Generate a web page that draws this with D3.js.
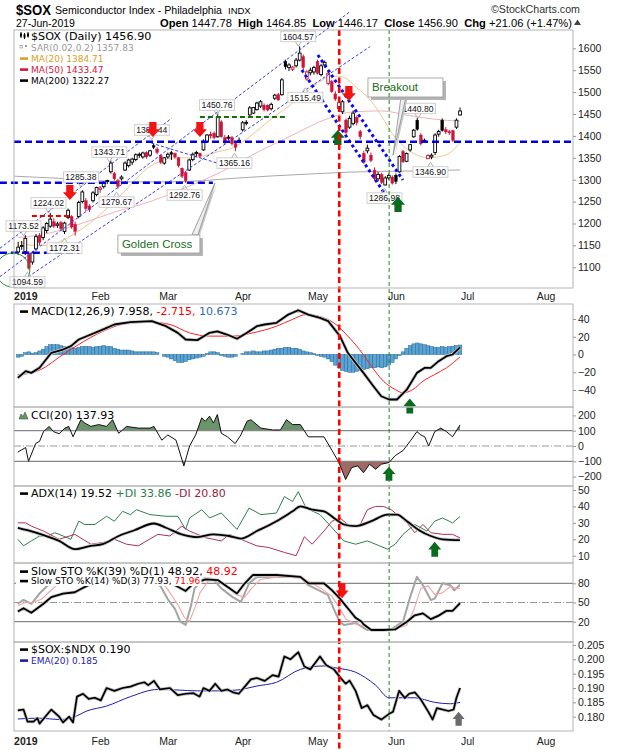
<!DOCTYPE html>
<html><head><meta charset="utf-8">
<script src="https://cdn.jsdelivr.net/npm/d3@7/dist/d3.min.js"></script>
<style>html,body{margin:0;padding:0;background:#fff;}svg{display:block;}</style>
</head><body>
<svg id="chart" width="620" height="750"></svg>
<script>
// ================= DATA =================
// Trading-day index: 0 = 2 Jan 2019; first candle is index -2 (28 Dec 2018)
const firstIndex = -2;
const opens = [
 1135,1148,1136,1132,1112,1142,1173,1168,1184,1194,
 1204,1196,1202,1182,1214,1216,1198,1216,1250,1252,
 1240,1252,1266,1278,1284,1296,1318,1314,1298,1302,
 1322,1332,1340,1346,1356,1352,1362,1356,1378,1370,
 1355,1338,1352,1362,1360,1350,1326,1316,1322,1346,
 1360,1360,1368,1386,1404,1406,1398,1432,1396,1396,
 1396,1382,1388,1414,1430,1448,1452,1460,1468,1470,
 1470,1462,1486,1494,1494,1570,1556,1552,1560,1573,
 1581,1530,1544,1546,1570,1540,1562,1520,1524,1496,
 1462,1455,1436,1420,1428,1442,1410,1360,1366,1356,
 1322,1302,1312,1288,1304,1306,1310,1318,1364,1342,
 1368,1398,1436,1402,1388,1348,1352,1362,1404,1436,
 1414,1410,1412,1420,1447.78];
const highs = [
 1158,1160,1173.52,1136,1137,1176,1178,1194,1203,1224.02,
 1212,1204,1206,1204,1234,1219,1204,1252,1276,1258,
 1244,1274,1284,1285.38,1296,1300,1343.71,1318,1302,1310,
 1342,1348,1350,1360,1362,1364,1365,1368,1382.44,1374,
 1358,1352,1362,1366,1362,1352,1328,1320,1348,1362,
 1366,1362,1392,1404,1410,1410,1450.76,1436,1402,1402,
 1400,1386,1396,1434,1436,1468,1466,1478,1482,1474,
 1472,1476,1496,1498,1532,1574,1566,1560,1578,1604.57,
 1586,1550,1556,1560,1574,1564,1572,1545,1528,1502,
 1480,1482,1440,1446,1458,1446,1414,1366,1380,1362,
 1328,1318,1316,1308,1314,1310,1314,1356,1368,1362,
 1382,1416,1440.80,1406,1394,1358,1360,1406,1414,1440,
 1420,1414,1414,1440,1464.85];
const lows = [
 1128,1140,1128,1094.59,1106,1138,1150,1162,1178,1190,
 1190,1190,1184,1176,1210,1188,1172.31,1212,1246,1228,
 1226,1248,1262,1270,1280,1290,1314,1298,1279.67,1298,
 1320,1328,1334,1342,1350,1348,1348,1352,1370,1358,
 1336,1334,1348,1345,1348,1328,1304,1292.76,1320,1342,
 1352,1350,1366,1384,1394,1392,1396,1396,1380,1390,
 1378,1365.16,1384,1410,1424,1446,1450,1458,1464,1456,
 1456,1458,1482,1480,1492,1552,1548,1548,1556,1570,
 1550,1526,1538,1540,1540,1536,1556,1515.49,1498,1480,
 1458,1450,1404,1416,1424,1424,1392,1336,1360,1340,
 1298,1296,1290,1286.98,1300,1289,1290,1316,1338,1340,
 1364,1396,1412,1378,1384,1347.5,1346.90,1356,1398,1410,
 1404,1402,1386,1416,1446.17];
const closes = [
 1146,1150,1166,1098,1133,1170,1157,1190,1200,1210,
 1194,1199,1188,1201,1230,1192,1182,1248,1272,1234,
 1232,1270,1282,1281,1294,1298,1338,1302,1285,1306,
 1338,1345,1347,1357,1358,1361,1352,1366,1374,1362,
 1340,1350,1358,1358,1352,1332,1308,1298,1345,1358,
 1362,1354,1388,1402,1400,1396,1442,1398,1384,1397,
 1382,1374,1390,1430,1431,1464,1465,1475,1478,1460,
 1459,1472,1493,1482,1528,1558,1562,1557,1573,1589,
 1556,1546,1550,1556,1543,1560,1568,1543,1501,1484,
 1476,1478,1408,1440,1452,1430,1398,1340,1372,1344,
 1302,1312,1294,1304,1310,1292,1296,1353,1341,1360,
 1380,1413,1415,1382,1390,1355,1356,1402,1410,1412,
 1409,1407,1390,1435.84,1456.90];

const monthLabels = ["2019","Feb","Mar","Apr","May","Jun","Jul","Aug"];
const monthStarts = [0,21,40,61,82,104,124,146];

// moving averages [index, value]
const ma20Pts = [[-2,1160],[2,1150],[6,1150],[10,1160],[14,1178],[18,1200],[22,1228],[26,1258],[30,1292],[34,1325],[38,1342],[42,1350],[46,1350],[50,1354],[54,1364],[58,1372],[62,1392],[66,1418],[70,1445],[74,1468],[78,1495],[82,1520],[86,1537],[89,1535],[93,1510],[97,1480],[100,1445],[103,1405],[106,1378],[109,1360],[113,1350],[117,1354],[120,1367],[122,1384.71]];
const ma50Pts = [[-2,1168],[5,1175],[15,1198],[25,1226],[35,1250],[45,1282],[55,1318],[65,1362],[75,1402],[85,1440],[92,1455],[100,1457],[108,1446],[115,1438],[122,1433.47]];
const ma200Pts = [[-3,1308],[10,1303],[20,1298],[30,1295],[40,1295],[50,1298],[60,1304],[70,1309],[80,1313],[90,1317],[100,1319],[110,1320],[122,1322.27]];

// MACD(12,26,9)
const macdPts = [[-2.1,-26.3],[0.1,-18.8],[1.7,-20.7],[4,-15],[7.3,1.9],[10.6,5.6],[12.8,9.4],[15,16.9],[18.4,22.5],[21.7,28],[25,33.8],[29.5,36.4],[35.5,37.6],[39.5,31.9],[42.8,24.4],[45,16.9],[48.3,16.2],[51.7,24.4],[53.9,26],[56.6,22.5],[59.4,17.7],[62.2,24.4],[65,31.9],[67.2,33.8],[70.5,35.7],[73.8,45],[76.6,49.9],[79.4,45],[82.7,41.3],[85,37.6],[88.3,20.7],[90.5,1.9],[92.7,-9.4],[94.9,-20.7],[97.7,-35.7],[99.9,-47],[102.1,-50.7],[104.3,-50.7],[107.1,-39.4],[109.9,-20.7],[112.1,-15],[113.8,-15],[116,-7.5],[118.2,-1.9],[119.9,0],[122,7.958]];
const signalPts = [[-2.1,-23],[4,-17.7],[10.6,0],[15,11.3],[21.7,26],[29.5,35.7],[35.5,36.4],[40.6,33.8],[46.1,24.4],[51.7,20.7],[58.3,20.7],[63.9,24.4],[70.5,31.9],[74.9,39.4],[78.8,45],[83.8,41.3],[87.2,33.8],[90.5,20.7],[93.8,5.6],[97.1,-13.1],[100.5,-30],[103.8,-39.4],[106,-43.2],[108.8,-39.4],[111.6,-30],[114.9,-22.5],[118.2,-15],[122,-2.715]];
const histValues = [
 -3,-2,2,3,1.5,2,4,6,9,11,11,11,
 10,9,9,8,7,8,9,9,9,8,
 9,9,10,9,9,7,6,5,5,5,
 4,3,3,3,3,3,3,2,0,-2,
 -3,-5,-7,-9,-9,-8,-6,-5,-4,-3,
 -2,1,3,3,2,-1,-2,-3,-3,-2,
 0,1,3,3,4,3,3,4,4,5,
 6,7,7,8,8,7,7,6,4,3,
 2,1,-1,-2,-3,-5,-8,-12,-15,-18,
 -19,-20,-20,-19,-18,-17,-16,-15,-15,-14,
 -15,-14,-12,-9,-5,-1,3,7,10,12,
 13,12,11,10,9,8,8,9,8,9,
 9,10,10.67];

// CCI(20)
const cciPts = [[-2.1,-40],[0.1,-10],[0.9,-100],[2.9,16],[4,30],[5.1,94],[6.7,128],[7.9,94],[9.5,80],[11.1,117],[12.2,128],[13.4,60],[14.5,117],[15.6,172],[16.7,150],[18.4,128],[20.6,140],[22.8,128],[24.5,172],[26.2,83],[28.4,128],[31.7,117],[35,117],[36.1,128],[38.3,38],[40,72],[42.3,38],[44.5,-130],[46.1,0],[47.8,72],[49.5,184],[50.5,161],[51.7,195],[52.8,150],[53.9,206],[55,83],[56.7,60],[58.9,16],[60.5,72],[62.2,161],[63.3,172],[66.1,117],[69.4,105],[71.6,105],[73.3,172],[75,140],[77.2,140],[79.4,60],[81.6,60],[83.8,60],[86.1,-30],[88,-108],[89.9,-219],[91.6,-141],[93.3,-130],[94.9,-175],[96.6,-119],[98.3,-152],[99.9,-119],[102.1,-108],[103.8,-63],[106,-30],[108.2,38],[109.9,94],[111,72],[112.1,60],[113.2,0],[114.9,94],[116.6,117],[118.2,94],[119.9,60],[122,137.93]];

// ADX(14)
const adxPts = [[-2.1,27],[0.6,25.5],[5.1,22.5],[9.5,19],[13.9,14],[18.4,16],[21.7,17],[26.2,22],[30.6,25.5],[36.1,29.6],[39.5,27],[43.9,23],[48.3,21.3],[52.8,23],[57.2,22],[60.5,20.4],[65,25],[70.5,31],[75,37],[77.2,40],[80.5,38],[83.8,37],[87.2,32],[89.4,29],[92.7,28],[97.1,31],[101.6,35],[104.3,35],[107.1,31],[110.5,25.5],[113.8,22],[117.1,20],[122,19.52]];
const plusDiPts = [[-2.1,20],[-0.5,16],[1.7,19],[4,22],[6.2,22],[8.3,24],[10.6,22],[12.8,20],[15,31],[16.7,29],[19.5,29],[22.8,34],[25,31],[27.3,37],[29.5,35],[31.2,38],[35,35],[39.5,34],[42.8,34],[45,26],[46.1,33],[49.5,38],[51.7,33],[55,36],[57.2,31],[59.4,26],[62.8,39],[66.1,35],[70.5,36],[72.7,46],[75,43],[76.6,49],[78.8,39],[82.7,35],[86.1,27],[89.4,19],[92.7,17],[96,19],[99.4,16],[101.6,14],[103.8,17],[106,23],[109.3,29],[112.7,25],[114.9,31],[117.1,33],[119.9,30],[122,33.86]];
const minusDiPts = [[-2.1,30],[0.1,30],[1.7,28],[5.1,25],[9.5,20],[13.9,23],[18.4,17],[21.7,18],[25,20],[28.4,17],[31.7,16],[37.2,23],[40.6,22],[43.9,28],[46.1,25],[50.5,21],[55,19],[57.2,23],[61.6,19],[65,16],[68.3,15],[72.7,12],[76,10],[78.3,21.5],[80.5,17],[83.8,25],[86.1,31],[88.3,33],[90.5,29],[93.8,28],[96,38],[98.3,40],[100.5,40],[102.7,38],[104.9,34],[107.1,30],[109.3,24],[111.6,29],[113.8,24],[117.1,23],[119.9,23],[122,20.8]];

// Slow stochastics
const stoK39Pts = [[-2.1,36],[-0.5,41],[1.7,34],[5.1,48],[7.3,58.5],[10.6,64],[13.9,66],[15.6,71],[18,78],[22,88],[26,92],[30,95],[34,96],[38,90],[41,80],[45,68],[47.2,80],[50.6,86],[54,85],[59.4,64],[61.6,80],[63.9,93],[70.5,93],[77.2,90],[79.4,80],[83.8,80],[86.1,69],[88.3,56],[90.5,41],[92.7,26],[94.4,20],[94.9,16],[97.1,7],[100.5,7],[103.8,8],[107.1,20],[109.3,30],[111.6,33],[113.8,24],[116,29.5],[118.2,37],[119.9,37],[122,48.92]];
const stoK14Pts = [[-2.1,48],[-0.5,54],[1.7,48],[4,64],[6,75],[8,85],[10,80],[12,90],[15,95],[18,90],[20,95],[24,88],[26,78],[28,90],[32,92],[35,88],[38,75],[40,55],[42,40],[43.5,20],[45,15],[46.5,45],[47.5,72],[50.6,90],[52.8,86],[55,72],[58.3,58],[60.5,51],[62.8,80],[65,90],[70.5,90],[77.2,90],[79.4,77],[82,70],[84.9,62],[87.2,32],[88.3,20],[89.4,15],[92.7,18],[96,7],[99.4,8],[102.7,8],[106,20],[108.2,62],[109.9,90],[111.6,77],[113.8,54],[114.9,56],[117.1,80],[119.3,77],[120.4,69],[122,77.93]];
const stoD3Pts = [[-2.1,45],[0,50],[2,50],[4.5,55],[7,68],[9,78],[11,83],[13,86],[16,92],[20,92],[25,88],[28,85],[32,90],[36,88],[39,78],[41,62],[43,45],[44.5,28],[46,20],[47.5,40],[49,65],[51.5,85],[54,86],[56,78],[59,63],[61.5,58],[63.5,72],[66,86],[71,90],[78,88],[80.5,80],[83,72],[86,60],[88.3,40],[90,24],[93,16],[97,9],[103,8],[107,14],[109,38],[111,72],[113,76],[115,62],[117,65],[119.3,75],[121,72],[122,71.96]];

// $SOX:$NDX ratio and its EMA(20)
const ratioPts = [[-2.1,0.1822],[-0.5,0.1825],[0.6,0.1783],[2.3,0.1783],[3.4,0.1795],[4,0.1776],[5.6,0.180],[7.3,0.1825],[9.5,0.180],[10.6,0.178],[12.3,0.180],[13.4,0.178],[14.5,0.187],[16.2,0.188],[17.8,0.1862],[19.5,0.1866],[21.2,0.1857],[22.8,0.190],[25,0.189],[27.3,0.190],[29.5,0.1905],[31.7,0.1915],[33.4,0.192],[34.5,0.191],[36.1,0.1925],[37.8,0.1895],[40.6,0.190],[42.8,0.1875],[45,0.188],[47.2,0.1882],[48.9,0.187],[50,0.190],[51.7,0.189],[53.3,0.1915],[55,0.189],[56.7,0.1895],[58.3,0.1885],[59.9,0.188],[61.6,0.1905],[63.3,0.193],[65,0.1935],[67.2,0.1925],[69.4,0.1945],[71.1,0.194],[72.7,0.201],[74.4,0.200],[76.6,0.2025],[78.3,0.1975],[80,0.1965],[82.7,0.201],[84.4,0.198],[86.6,0.1965],[88.3,0.1938],[89.9,0.1915],[91,0.1926],[92.7,0.189],[94.4,0.183],[96,0.184],[97.7,0.1806],[99.9,0.179],[102.1,0.181],[103.2,0.1817],[104.9,0.189],[106.5,0.1865],[107.7,0.188],[109.3,0.1885],[111,0.186],[113.2,0.1815],[114.3,0.179],[115.5,0.183],[117.1,0.1825],[118.8,0.182],[120.2,0.1825],[121,0.1866],[122,0.190]];
const ratioEmaPts = [[-2.1,0.1792],[4,0.1795],[9.5,0.179],[13.9,0.180],[17.3,0.182],[22.8,0.1837],[29.5,0.187],[37.2,0.1895],[42.8,0.1893],[48.3,0.189],[53.9,0.189],[59.4,0.1893],[65,0.1907],[70.5,0.192],[77.2,0.1965],[83.8,0.1977],[87.2,0.197],[92.7,0.1955],[98.3,0.191],[102.1,0.1866],[109.3,0.1866],[114.9,0.185],[119.3,0.1845],[122,0.185]];

// axis tick values
const mainTicks = [1100,1150,1200,1250,1300,1350,1400,1450,1500,1550,1600];
const macdTicks = [40,20,0,-20,-40];
const cciTicks = [200,100,0,-100,-200];
const adxTicks = [50,40,30,20,10];
const stoTicks = [80,50,20];
const ratioTicks = [0.205,0.200,0.195,0.190,0.185,0.180];

// ================= DRAWING =================
const svg = d3.select('#chart');
const FONT = "'Liberation Sans', Arial, sans-serif";
const LFONT = "'DejaVu Sans', Verdana, sans-serif";
const RED = '#d3123a';

const xs = d3.scaleLinear().domain([-3.17,153.7]).range([14,573]);
const panels = {main:[30,288], macd:[304,407], cci:[407,486], adx:[486,563], sto:[563,642], ratio:[642,731]};
const yMain = d3.scaleLinear().domain([1100,1600]).range([267.3,48.3]);
const yMacd = d3.scaleLinear().domain([-40,40]).range([390,319]);
const yCci = d3.scaleLinear().domain([-100,100]).range([461.3,430.7]);
const yAdx = d3.scaleLinear().domain([10,50]).range([555.7,490]);
const ySto = d3.scaleLinear().domain([20,80]).range([621.7,583.3]);
const yRatio = d3.scaleLinear().domain([0.18,0.205]).range([716.7,645]);

const defs = svg.append('defs');
Object.entries(panels).forEach(([k,[t,b]])=>{
  defs.append('clipPath').attr('id','clip-'+k).append('rect')
    .attr('x',14).attr('y',t).attr('width',559).attr('height',b-t);
});
const layer = k => svg.append('g').attr('clip-path','url(#clip-'+k+')');

function drawLine(g, pts, ys, color, w, opts={}) {
  const ln = d3.line().x(d=>xs(d[0])).y(d=>ys(d[1]));
  if (opts.curve) ln.curve(d3.curveMonotoneX);
  if (opts.shadow) g.append('path').attr('d',ln(pts)).attr('fill','none').attr('stroke',opts.shadow).attr('stroke-width',w+1.6).attr('stroke-linejoin','round');
  g.append('path').attr('d',ln(pts)).attr('fill','none').attr('stroke',color).attr('stroke-width',w).attr('stroke-linejoin','round');
}
function hRule(g, ys, v, color, w, dash) {
  g.append('line').attr('x1',14).attr('x2',573).attr('y1',ys(v)).attr('y2',ys(v))
   .attr('stroke',color).attr('stroke-width',w).attr('stroke-dasharray',dash||null);
}

// ---------- header ----------
svg.append('text').attr('x',16).attr('y',14.8).attr('font-family',FONT).attr('font-weight','bold')
  .attr('font-size',15.5).attr('textLength',35).attr('lengthAdjust','spacingAndGlyphs').text('$SOX');
svg.append('text').attr('x',55).attr('y',13.5).attr('font-family',FONT).attr('font-size',10.5)
  .attr('textLength',167).attr('lengthAdjust','spacingAndGlyphs').text('Semiconductor Index - Philadelphia');
svg.append('text').attr('x',228).attr('y',13.5).attr('font-family',FONT).attr('font-size',9.5).text('INDX');
svg.append('text').attr('x',580).attr('y',12.5).attr('text-anchor','end').attr('font-family',FONT).attr('font-size',10)
  .attr('fill','#333').attr('textLength',89).attr('lengthAdjust','spacingAndGlyphs').text('\u00A9StockCharts.com');
svg.append('text').attr('x',16).attr('y',26.5).attr('font-family',FONT).attr('font-size',10.5).text('27-Jun-2019');
const hl = svg.append('text').attr('x',160).attr('y',26.5).attr('font-family',FONT).attr('font-size',11.5)
  .attr('textLength',412).attr('lengthAdjust','spacingAndGlyphs');
[['Open',1],[' 1447.78  ',0],['High',1],[' 1464.85  ',0],['Low',1],[' 1446.17  ',0],['Close',1],[' 1456.90  ',0],['Chg',1],[' +21.06 (+1.47%)',0]]
 .forEach(([t,b])=>hl.append('tspan').attr('font-weight',b?'bold':'normal').attr('xml:space','preserve').text(t));
svg.append('path').attr('d','M574,25 L577.5,19.5 L581,25 Z').attr('fill','#444');

// ---------- main panel ----------
const gm = layer('main');
drawLine(gm, ma200Pts, yMain, '#a9a9a9', 1, {curve:true});
drawLine(gm, ma50Pts, yMain, '#f3b2ba', 1, {curve:true});
drawLine(gm, ma20Pts, yMain, '#ecc890', 1, {curve:true});

const candles = closes.map((c,k)=>({i:firstIndex+k, o:opens[k], h:highs[k], l:lows[k], c:c, prev:k>0?closes[k-1]:null}));
candles.forEach(d=>{
  const col = (d.prev!==null && d.c<d.prev) ? RED : '#000';
  const x = xs(d.i);
  gm.append('line').attr('x1',x).attr('x2',x).attr('y1',yMain(d.h)).attr('y2',yMain(d.l)).attr('stroke',col).attr('stroke-width',1);
  const top = yMain(Math.max(d.o,d.c)), bot = yMain(Math.min(d.o,d.c));
  const filled = d.c < d.o;
  gm.append('rect').attr('x',x-1.4).attr('y',top).attr('width',2.8).attr('height',Math.max(1,bot-top))
    .attr('fill',filled?col:'#fff').attr('stroke',col).attr('stroke-width',filled?0.4:0.9);
});

// annotation lines (data coordinates)
const ga = svg.append('g');
const seg = (a,b,color,w,dash)=>ga.append('line').attr('x1',xs(a[0])).attr('y1',yMain(a[1])).attr('x2',xs(b[0])).attr('y2',yMain(b[1]))
   .attr('stroke',color).attr('stroke-width',w).attr('stroke-dasharray',dash);
const thinTrend = [[[-7.13,1143.4],[41.06,1440.2]], [[-7.13,1078.5],[91.1,1683.6]], [[0.81,1078.5],[96.7,1603.7]], [[34.04,1386.8],[54.1,1337.4]]];
thinTrend.forEach(([a,b])=>seg(a,b,'#3a3af0',1,'3,2'));
const thickTrend = [[[82.1,1584.7],[105.97,1299.3]], [[77.6,1550.5],[101.5,1260.5]]];
thickTrend.forEach(([a,b])=>seg(a,b,'#0a0af5',3,'3,3'));
const hLevels = [
  {p:1386.8, i0:-3.17, i1:153.7, c:'#0000e0', w:2.5, d:'7,4'},
  {p:1293,   i0:-7.13, i1:52.65, c:'#0000e0', w:2.5, d:'7,4'},
  {p:1133.3, i0:-7.13, i1:15.3,  c:'#0000e0', w:2.5, d:'7,4'},
  {p:1217,   i0:1.85,  i1:13.1,  c:'#ee0000', w:2,   d:'5,3'},
  {p:1443,   i0:49,    i1:72.9,  c:'#107010', w:2,   d:'5,3'}];
hLevels.forEach(h=>seg([h.i0,h.p],[h.i1,h.p],h.c,h.w,h.d));

// green circle around the January low
ga.append('circle').attr('cx',xs(-3.5)).attr('cy',yMain(1093.8)).attr('r',17).attr('fill','none').attr('stroke','#2a8a2a').attr('stroke-width',1);

// value labels [text, index, price (box centre), pointer]
const valueLabels = [
 ['1604.57',76.6,1627,'down'],['1450.76',53.8,1470.5,'down'],['1382.44',35.5,1413.5,'down'],
 ['1343.71',23.6,1363,'down'],['1285.38',15.6,1306,'down'],['1279.67',25.6,1249,'up'],
 ['1292.76',44.7,1265,'up'],['1365.16',58.7,1338,'up'],['1224.02',6.5,1247,'down'],
 ['1173.52',-0.5,1194.3,'down'],['1172.31',11,1144,'up'],['1094.59',0.6,1066.5,'up'],
 ['1515.49',78.6,1487.7,'up'],['1286.98',100.8,1258,'up'],['1440.80',110.2,1462.6,'down'],
 ['1346.90',113.7,1317.6,'up']];
valueLabels.forEach(([t,i,p,dir])=>{
  const cx = xs(i), cy = yMain(p), w = 35, h = 10.5;
  const g = svg.append('g');
  const py = dir==='down' ? cy+h/2 : cy-h/2, ty = dir==='down' ? py+4.5 : py-4.5;
  g.append('path').attr('d',`M${cx-3},${py} L${cx},${ty} L${cx+3},${py}`).attr('fill','none').attr('stroke','#b0b0b0');
  g.append('rect').attr('x',cx-w/2).attr('y',cy-h/2).attr('width',w).attr('height',h).attr('fill','#fff').attr('stroke','#c4c4c4').attr('stroke-width',0.8);
  g.append('text').attr('x',cx).attr('y',cy+3.1).attr('text-anchor','middle').attr('font-family',FONT).attr('font-size',8.6).attr('fill','#111').text(t);
});

// block arrows
function blockArrow(cx, tipY, dir, color, w, h) {
  const hw=w/2, sw=w*0.26, hh=h*0.52, s = dir==='down'?-1:1;
  const pts = [[cx-sw,tipY+s*h],[cx+sw,tipY+s*h],[cx+sw,tipY+s*hh],[cx+hw,tipY+s*hh],[cx,tipY],[cx-hw,tipY+s*hh],[cx-sw,tipY+s*hh]];
  svg.append('polygon').attr('points',pts.map(p=>p.join(',')).join(' ')).attr('fill',color);
}
const GREEN = '#0b6b1c';
const mainArrows = [[12.5,1253.6,'down',RED],[35.8,1397.5,'down',RED],[49,1397.5,'down',RED],[90.8,1479.7,'down',RED],
                    [87.7,1413.5,'up',GREEN],[104.6,1260.5,'up',GREEN]];
mainArrows.forEach(([i,p,dir,c])=>blockArrow(xs(i), yMain(p), dir, c==RED?'#f01414':c, 14, 15));

// callouts
function callout(c) {
  const x = xs(c.i), y = yMain(c.p), tx = xs(c.tipI), ty = yMain(c.tipP);
  const by = c.edge==='top' ? y : y + c.h;
  const g = svg.append('g');
  g.append('polygon').attr('points',`${x+c.b1+2},${by} ${x+c.b2+2},${by} ${tx+2},${ty}`).attr('fill','#c8c8c8');
  g.append('polygon').attr('points',`${x+c.b1},${by} ${x+c.b2},${by} ${tx},${ty}`).attr('fill','#eeeeee').attr('stroke','#8c8c8c').attr('stroke-width',0.8);
  g.append('rect').attr('x',x+3).attr('y',y+3).attr('width',c.w).attr('height',c.h).attr('fill','#b4b4b4');
  g.append('rect').attr('x',x).attr('y',y).attr('width',c.w).attr('height',c.h).attr('fill','#fff').attr('stroke','#999').attr('stroke-width',0.8);
  g.append('text').attr('x',x+4).attr('y',y+c.h/2+4).attr('font-family',FONT).attr('font-size',11.5).attr('fill','#1a6e1a').text(c.text);
}
callout({text:'Golden Cross', i:25.99, p:1173.7, w:82, h:18, tipI:53.2, tipP:1291.8, b1:74, b2:80, edge:'top'});
callout({text:'Breakout', i:96.16, p:1532.2, w:75, h:19, tipI:103.2, tipP:1356, b1:33, b2:38, edge:'bottom'});

// main legend
function legendText(x, y, parts, size) {
  const t = svg.append('text').attr('x',x).attr('y',y).attr('font-family',LFONT).attr('font-size',size);
  parts.forEach(([s,c])=>t.append('tspan').attr('fill',c).attr('xml:space','preserve').text(s));
  return t;
}
function dashIcon(y, c) { svg.append('rect').attr('x',20).attr('y',y-4.2).attr('width',8).attr('height',2.6).attr('fill',c); }
// candle icon
[[21,32,38,'#000'],[24.5,33,39,'#000'],[28,32,37.5,'#000']].forEach(([x,a,b,c])=>{
  svg.append('line').attr('x1',x).attr('x2',x).attr('y1',a).attr('y2',b).attr('stroke',c).attr('stroke-width',1);
  svg.append('rect').attr('x',x-1).attr('y',a+1.5).attr('width',2).attr('height',3).attr('fill',c);
});
legendText(31,39.5,[['$SOX (Daily) 1456.90','#000']],11.2);
svg.append('rect').attr('x',20).attr('y',45.5).attr('width',2.5).attr('height',2.5).attr('fill','none').attr('stroke','#999').attr('stroke-width',0.7);
svg.append('rect').attr('x',25).attr('y',45).attr('width',2).attr('height',2).attr('fill','#999');
legendText(31,50.5,[['SAR(0.02,0.2) 1357.83','#999']],9);
dashIcon(61.5,'#d9a02a'); legendText(31,61.5,[['MA(20) 1384.71','#d9a02a']],9);
dashIcon(72.5,'#d9143c'); legendText(31,72.5,[['MA(50) 1433.47','#d9143c']],9);
dashIcon(83.5,'#000'); legendText(31,83.5,[['MA(200) 1322.27','#000']],9);

// ---------- MACD ----------
const gmacd = layer('macd');
const bw = xs(1)-xs(0);
histValues.forEach((v,k)=>{
  const i = firstIndex+k, y0 = yMacd(0), y1 = yMacd(v);
  gmacd.append('rect').attr('x',xs(i)-bw/2).attr('y',Math.min(y0,y1)).attr('width',bw).attr('height',Math.abs(y1-y0))
    .attr('fill','#5aa3d2').attr('stroke','#22689a').attr('stroke-width',0.5);
});
drawLine(gmacd, signalPts, yMacd, '#ff2020', 1, {curve:true});
drawLine(gmacd, macdPts, yMacd, '#000', 1.8, {shadow:'#c8c8c8'});
dashIcon(314.5,'#000');
legendText(31,314.5,[['MACD(12,26,9) 7.958, ','#000'],['-2.715, ','#ff0000'],['10.673','#2e6db0']],11);

// ---------- CCI ----------
const gcci = layer('cci');
defs.append('clipPath').attr('id','cci-hi').append('rect').attr('x',14).attr('y',407).attr('width',559).attr('height',yCci(100)-407);
defs.append('clipPath').attr('id','cci-lo').append('rect').attr('x',14).attr('y',yCci(-100)).attr('width',559).attr('height',486-yCci(-100));
const cciArea = base => d3.area().x(d=>xs(d[0])).y0(yCci(base)).y1(d=>yCci(d[1]));
gcci.append('path').attr('d',cciArea(100)(cciPts)).attr('fill','#6c946c').attr('clip-path','url(#cci-hi)');
gcci.append('path').attr('d',cciArea(-100)(cciPts)).attr('fill','#9e6a66').attr('clip-path','url(#cci-lo)');
hRule(gcci, yCci, 100, '#888', 1.2); hRule(gcci, yCci, -100, '#888', 1.2); hRule(gcci, yCci, 0, '#999', 1, '7,2,1,2');
drawLine(gcci, cciPts, yCci, '#111', 1);
svg.append('path').attr('d','M19,419 L21,414 L23,416.5 L25,412 L28,419 Z').attr('fill','#6c946c').attr('stroke','#355a35').attr('stroke-width',0.6);
legendText(31,419,[['CCI(20) 137.93','#000']],11);

// ---------- ADX ----------
const gadx = layer('adx');
drawLine(gadx, plusDiPts, yAdx, '#2e8050', 1);
drawLine(gadx, minusDiPts, yAdx, '#b03052', 1);
drawLine(gadx, adxPts, yAdx, '#000', 1.8, {shadow:'#c8c8c8', curve:true});
dashIcon(496.5,'#000');
legendText(31,496.5,[['ADX(14) 19.52 ','#000'],['+DI 33.86 ','#2e7d4f'],['-DI 20.80','#a0203a']],11);

// ---------- STO ----------
const gsto = layer('sto');
hRule(gsto, ySto, 80, '#888', 1.2); hRule(gsto, ySto, 20, '#888', 1.2); hRule(gsto, ySto, 50, '#999', 1, '7,2,1,2');
drawLine(gsto, stoK14Pts, ySto, '#a4a4a4', 2);
drawLine(gsto, stoD3Pts, ySto, '#f2a4a4', 1.1);
drawLine(gsto, stoK39Pts, ySto, '#000', 1.8, {shadow:'#cccccc'});
function bgLegend(x,y,parts,size){
  const t = legendText(x,y,parts,size); const bb = t.node().getBBox();
  svg.insert('rect', () => t.node()).attr('x',16).attr('y',bb.y-0.5).attr('width',bb.x+bb.width-16+1).attr('height',bb.height+0.5).attr('fill','#fff');
  return t;
}
bgLegend(31,574.5,[['Slow STO %K(39) %D(1) 48.92, ','#000'],['48.92','#ff0000']],11);
bgLegend(31,584,[['Slow STO %K(14) %D(3) 77.93, ','#000'],['71.96','#ff0000']],9);
dashIcon(574.5,'#000'); dashIcon(584,'#000');

// ---------- ratio ----------
const grat = layer('ratio');
drawLine(grat, ratioEmaPts, yRatio, '#1c1cb0', 1, {curve:true});
drawLine(grat, ratioPts, yRatio, '#000', 1.7, {shadow:'#c4c4c4'});
dashIcon(652.5,'#000'); legendText(31,652.5,[['$SOX:$NDX 0.190','#000']],11);
dashIcon(663.5,'#1c1cb0'); legendText(31,663.5,[['EMA(20) 0.185','#1c1cb0']],9);

// subpanel arrows
blockArrow(xs(107.9), yMacd(-49.6), 'up', GREEN, 13, 15);
blockArrow(xs(102.05), yCci(-135), 'up', GREEN, 13, 14);
blockArrow(xs(114.9), yAdx(18.5), 'up', GREEN, 13, 15);
blockArrow(xs(88.9), ySto(56.6), 'down', '#f01414', 13, 15);
blockArrow(xs(121.6), yRatio(0.18174), 'up', '#6a6a6a', 12, 14);

// vertical event lines
const vRed = 88.1, vGreen = 102.1;
svg.append('line').attr('x1',xs(vGreen)).attr('x2',xs(vGreen)).attr('y1',30).attr('y2',731).attr('stroke','#1a8a1a').attr('stroke-width',1).attr('stroke-dasharray','4,3');
svg.append('line').attr('x1',xs(vRed)).attr('x2',xs(vRed)).attr('y1',30).attr('y2',750).attr('stroke','#ff0000').attr('stroke-width',2.6).attr('stroke-dasharray','6,3.5');

// ---------- panel frames & axes ----------
Object.values(panels).forEach(([t,b])=>{
  svg.append('rect').attr('x',14).attr('y',t).attr('width',559).attr('height',b-t).attr('fill','none').attr('stroke','#b4b4b4').attr('stroke-width',1);
});
function rightAxis(scale, ticks, fmt) {
  const g = svg.append('g').attr('transform','translate(573,0)')
    .call(d3.axisRight(scale).tickValues(ticks).tickFormat(fmt).tickSize(3).tickPadding(2));
  g.select('.domain').remove();
  g.selectAll('line').attr('stroke','#999');
  g.selectAll('text').attr('font-family',FONT).attr('font-size',10.5).attr('fill','#222');
}
rightAxis(yMain, mainTicks, d3.format('d'));
rightAxis(yMacd, macdTicks, d3.format('d'));
rightAxis(yCci, cciTicks, d3.format('d'));
rightAxis(yAdx, adxTicks, d3.format('d'));
rightAxis(ySto, stoTicks, d3.format('d'));
rightAxis(yRatio, ratioTicks, d3.format('.3f'));
function monthAxis(y) {
  const g = svg.append('g').attr('transform',`translate(0,${y})`)
    .call(d3.axisBottom(xs).tickValues(monthStarts).tickFormat((d,k)=>monthLabels[k]).tickSize(0).tickPadding(0));
  g.select('.domain').remove();
  g.selectAll('text').attr('y',0).attr('dy',0).attr('font-family',FONT).attr('font-size',10.5).attr('fill','#222')
    .attr('font-weight',(d,k)=>k===0?'bold':'normal');
}
monthAxis(300);
monthAxis(744.5);
</script>
</body></html>
